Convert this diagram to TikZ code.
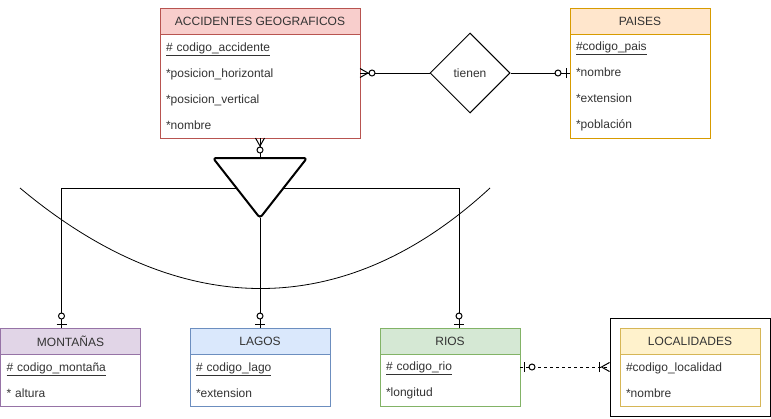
\documentclass[tikz,border=0pt]{standalone}
\usepackage{fontspec}
\setmainfont{Liberation Sans}
\usetikzlibrary{arrows.meta,positioning,shapes.geometric,fit,calc}
\definecolor{accfill}{HTML}{F8CECC}\definecolor{accline}{HTML}{B85450}
\definecolor{paisfill}{HTML}{FFE6CC}\definecolor{paisline}{HTML}{D79B00}
\definecolor{montfill}{HTML}{E1D5E7}\definecolor{montline}{HTML}{9673A6}
\definecolor{lagofill}{HTML}{DAE8FC}\definecolor{lagoline}{HTML}{6C8EBF}
\definecolor{riofill}{HTML}{D5E8D4}\definecolor{rioline}{HTML}{82B366}
\definecolor{locfill}{HTML}{FFF2CC}\definecolor{locline}{HTML}{D6B656}
\definecolor{ertext}{HTML}{333333}

\tikzset{
  zeromany/.pic={\draw[line width=1pt] (0,-4.5) -- (8,0) -- (0,4.5);
    \draw[line width=1pt, fill=white] (12,0) circle (3pt);},
  zeroone/.pic={\draw[line width=1pt] (4,-5) -- (4,5);
    \draw[line width=1pt, fill=white] (12,0) circle (3pt);},
  onemany/.pic={\draw[line width=1pt] (0,-4.5) -- (8,0) -- (0,4.5);
    \draw[line width=1pt] (10,-5) -- (10,5);},
}

\begin{document}
\begin{tikzpicture}[x=1pt, y=-1pt,
  hdr/.style={rectangle, draw, line width=1pt, minimum height=26pt, inner sep=0pt,
    outer sep=0pt, font=\fontsize{12}{14}\selectfont, text=ertext},
  attrs/.style={rectangle, draw, line width=1pt, fill=white, inner xsep=6pt, inner ysep=0pt,
    outer sep=0pt, align=left, font=\fontsize{12}{26}\selectfont, text=ertext},
  conn/.style={draw, line width=1pt},
  isa/.style={draw, line width=2pt, rounded corners=3pt, line join=round},
]
\useasboundingbox (0,0) rectangle (771,418);

% Entities, top row
\node[hdr, fill=accfill, draw=accline, minimum width=200pt] (acc) at (260,21) {ACCIDENTES GEOGRAFICOS};
\node[attrs, draw=accline, text width=188pt, minimum height=104pt, below=0pt of acc] (accb)
  {\underline{\# codigo\_accidente}\\{}*posicion\_horizontal\\{}*posicion\_vertical\\{}*nombre};
\node[hdr, fill=paisfill, draw=paisline, minimum width=140pt] (pais) at (640,21) {PAISES};
\node[attrs, draw=paisline, text width=128pt, minimum height=104pt, below=0pt of pais] (paisb)
  {\underline{\#codigo\_pais}\\{}*nombre\\{}*extension\\{}*población};
\node[diamond, draw, line width=1pt, minimum width=80pt, minimum height=80pt, inner sep=0pt,
  font=\fontsize{12}{14}\selectfont, text=ertext] (tienen) at (470,73) {tienen};

% Entities, bottom row
\node[hdr, fill=montfill, draw=montline, minimum width=140pt] (mont) at (70.5,341) {MONTAÑAS};
\node[attrs, draw=montline, text width=128pt, minimum height=52pt, below=0pt of mont] (montb)
  {\underline{\# codigo\_montaña}\\{}* altura};
\node[hdr, fill=lagofill, draw=lagoline, minimum width=140pt] (lago) at (260,341) {LAGOS};
\node[attrs, draw=lagoline, text width=128pt, minimum height=52pt, below=0pt of lago] (lagob)
  {\underline{\# codigo\_lago}\\{}*extension};
\node[hdr, fill=riofill, draw=rioline, minimum width=140pt] (rio) at (450,341) {RIOS};
\node[attrs, draw=rioline, text width=128pt, minimum height=52pt, below=0pt of rio] (riob)
  {\underline{\# codigo\_rio}\\{}*longitud};
\node[hdr, fill=locfill, draw=locline, minimum width=140pt] (loc) at (690,341) {LOCALIDADES};
\node[attrs, draw=locline, text width=128pt, minimum height=52pt, below=0pt of loc] (locb)
  {\#codigo\_localidad\\{}*nombre};
\node[draw, line width=1pt, inner sep=10pt, fit=(loc)(locb)] (locframe) {};

% Specialisation triangle and arc
\coordinate (isatop) at (260,158);
\coordinate (isatip) at (260,218);
\coordinate (isaleft) at (236.5,188.5);
\coordinate (isaright) at (283.5,188.5);
\draw[isa] (213,158) -- (307,158) -- (isatip) -- cycle;
\draw[line width=0.8pt] (20,188) .. controls (180,322) and (345,322) .. (490,188);

% Connectors
\coordinate (montin) at ([xshift=-9pt]mont.north);
\coordinate (rioin) at ([xshift=9pt]rio.north);
\coordinate (riorow) at ([yshift=13pt]riob.east);
\draw[conn] (tienen.west) -- (tienen.west -| accb.east);
\draw[conn] (tienen.east) -- (tienen.east -| paisb.west);
\draw[conn] (accb.south) -- (isatop);
\draw[conn] (isaleft) -| (montin);
\draw[conn] (isatip) -- (lago.north);
\draw[conn] (isaright) -| (rioin);
\draw[conn, dash pattern=on 3pt off 3pt] (riorow) -- (riorow -| locframe.west);

% Cardinality marks
\pic at (tienen.west -| accb.east) {zeromany};
\pic[rotate=180] at (tienen.east -| paisb.west) {zeroone};
\pic[rotate=-90] at (accb.south) {zeromany};
\pic[rotate=90] at (montin) {zeroone};
\pic[rotate=90] at (lago.north) {zeroone};
\pic[rotate=90] at (rioin) {zeroone};
\pic at (riorow) {zeroone};
\pic[rotate=180] at (riorow -| locframe.west) {onemany};

\end{tikzpicture}
\end{document}
